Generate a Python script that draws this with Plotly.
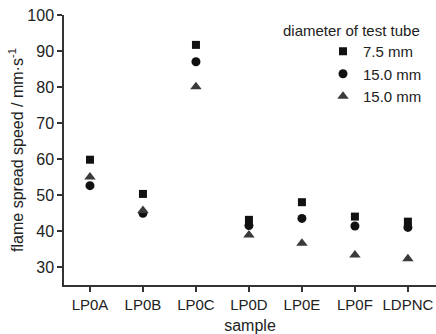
import plotly.graph_objects as go

samples = ["LP0A", "LP0B", "LP0C", "LP0D", "LP0E", "LP0F", "LDPNC"]
series_names = ["7.5 mm", "15.0 mm", "15.0 mm"]
speed_sq = [59.8, 50.3, 91.7, 43.1, 48.0, 44.0, 42.6]
speed_ci = [52.6, 44.9, 87.0, 41.5, 43.5, 41.4, 41.0]
speed_tr = [55.0, 45.7, 80.1, 38.9, 36.6, 33.3, 32.3]
y_ticks = [30, 40, 50, 60, 70, 80, 90, 100]

FONT = "Liberation Sans, Arial, sans-serif"
TXT = "#222222"
AX = "#333333"

fig = go.Figure()
styles = [("square", 8, "#111111"), ("circle", 9, "#111111"), ("triangle-up", 10, "#3a3a3a")]
for name, vals, (sym, sz, col) in zip(series_names, [speed_sq, speed_ci, speed_tr], styles):
    fig.add_trace(go.Scatter(
        x=samples, y=vals, mode="markers", name=name,
        marker=dict(symbol=sym, size=sz, color=col, line=dict(width=0)),
    ))

fig.update_layout(
    width=436, height=334,
    margin=dict(l=64, r=0, t=15, b=49),
    paper_bgcolor="white", plot_bgcolor="white",
    font=dict(family=FONT, size=15, color=TXT),
    showlegend=True,
    legend=dict(
        x=(323 - 64) / 372, y=(285 - 35) / 270, xanchor="left", yanchor="top",
        xref="paper", yref="paper",
        font=dict(family=FONT, size=15, color=TXT),
        bgcolor="rgba(0,0,0,0)", borderwidth=0, itemwidth=30,
        tracegroupgap=0,
    ),
    annotations=[dict(
        text="diameter of test tube", xref="paper", yref="paper",
        x=(281 - 64) / 372, y=(285 - 30) / 270, xanchor="left", yanchor="middle",
        showarrow=False, font=dict(family=FONT, size=15, color=TXT),
    )],
)

fig.update_xaxes(
    type="category", range=[-0.49, 6.53],
    showline=True, linecolor=AX, linewidth=1.5,
    ticks="outside", ticklen=5, tickcolor=AX, tickwidth=1.5,
    showgrid=False, zeroline=False,
    tickfont=dict(family=FONT, size=15, color=TXT),
    title=dict(text="sample", font=dict(family=FONT, size=16, color=TXT), standoff=8),
)
fig.update_yaxes(
    range=[25, 100], tickvals=y_ticks,
    showline=True, linecolor=AX, linewidth=1.5,
    ticks="outside", ticklen=5, tickcolor=AX, tickwidth=1.5,
    showgrid=False, zeroline=False,
    tickfont=dict(family=FONT, size=16, color=TXT),
    title=dict(text="flame spread speed / mm·s<sup>-1</sup>",
               font=dict(family=FONT, size=16, color=TXT), standoff=0),
)

fig.write_html("out.html")
